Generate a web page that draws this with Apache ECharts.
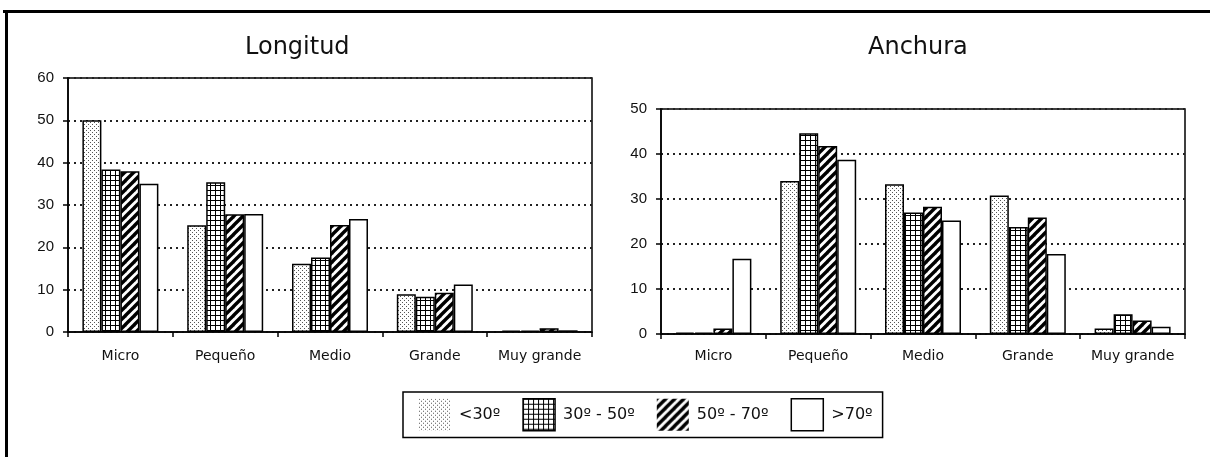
<!DOCTYPE html>
<html>
<head>
<meta charset="utf-8">
<script src="https://cdn.jsdelivr.net/npm/echarts@6/dist/echarts.min.js"></script>
<style>
  html, body { margin: 0; padding: 0; background: #fff; }
  #chart { width: 1210px; height: 457px; }
</style>
</head>
<body>
<div id="chart"></div>
<script>
// Categories and class names
const categories = ['Micro', 'Pequeño', 'Medio', 'Grande', 'Muy grande'];
const classNames = ['<30º', '30º - 50º', '50º - 70º', '>70º'];

// Longitud (%)
const longLt30  = [50.0, 25.2, 16.1, 8.9, 0.3];
const long30_50 = [38.4, 35.4, 17.6, 8.3, 0.3];
const long50_70 = [38.0, 27.8, 25.3, 9.3, 0.9];
const longGt70  = [35.0, 27.9, 26.7, 11.2, 0.4];

// Anchura (%)
const anchLt30  = [0.3, 34.0, 33.3, 30.8, 1.2];
const anch30_50 = [0.3, 44.6, 27.0, 23.8, 4.4];
const anch50_70 = [1.2, 41.8, 28.3, 25.9, 3.0];
const anchGt70  = [16.7, 38.7, 25.2, 17.8, 1.6];

// Axis ranges
const longTicks = { min: 0, max: 60, interval: 10 };
const anchTicks = { min: 0, max: 50, interval: 10 };

// Fill patterns drawn on small canvases
function tile(size, draw) {
  const c = document.createElement('canvas');
  c.width = size; c.height = size;
  const g = c.getContext('2d');
  g.fillStyle = '#fff';
  g.fillRect(0, 0, size, size);
  draw(g, size);
  return { image: c, repeat: 'repeat' };
}
const dotFill = tile(4, (g) => {
  g.fillStyle = '#555';
  g.fillRect(0, 0, 1, 1);
  g.fillRect(2, 2, 1, 1);
});
const gridFill = tile(5, (g, s) => {
  g.fillStyle = '#000';
  g.fillRect(0, 0, s, 1);
  g.fillRect(0, 0, 1, s);
});
const stripeFill = tile(9, (g, s) => {
  g.strokeStyle = '#000';
  g.lineWidth = 3.4;
  g.lineCap = 'square';
  for (let k = -1; k <= 1; k++) {
    g.beginPath();
    g.moveTo(k * s - 1, s + 1);
    g.lineTo(k * s + s + 1, -1);
    g.stroke();
  }
});
const fills = [dotFill, gridFill, stripeFill, '#fff'];
const borders = [0, 1.5, 0, 1.5];

const textColor = '#111';
const catFont = { fontFamily: 'DejaVu Sans', fontSize: 14, color: textColor };
const valFont = { fontFamily: 'Liberation Sans', fontSize: 15, color: textColor };

function xAxisFor(gridIndex, margin) {
  return {
    type: 'category', gridIndex, data: categories,
    axisLine: { lineStyle: { color: '#000', width: 1.5 } },
    axisTick: { show: true, length: 5, lineStyle: { color: '#000', width: 1.5 } },
    axisLabel: Object.assign({ margin, interval: 0 }, catFont),
    splitLine: { show: false }
  };
}
function yAxisFor(gridIndex, ticks) {
  return {
    type: 'value', gridIndex, min: ticks.min, max: ticks.max, interval: ticks.interval,
    axisLine: { show: true, lineStyle: { color: '#000', width: 1.5 } },
    axisTick: { show: true, length: 5, lineStyle: { color: '#000', width: 1.5 } },
    axisLabel: Object.assign({ margin: 14 }, valFont),
    splitLine: { show: true, lineStyle: { color: '#222', width: 2, type: [2, 4] } }
  };
}

function seriesFor(axisIndex, values) {
  return values.map((data, i) => ({
    name: classNames[i],
    type: 'bar',
    xAxisIndex: axisIndex,
    yAxisIndex: axisIndex,
    data,
    barGap: '0%',
    barCategoryGap: '27.5%',
    itemStyle: { color: fills[i], borderColor: '#000', borderWidth: 1.5 },
    emphasis: { disabled: true },
    animation: false
  }));
}

const chart = echarts.init(document.getElementById('chart'), null, { renderer: 'canvas' });
chart.setOption({
  backgroundColor: '#fff',
  animation: false,
  title: [
    { text: 'Longitud', left: 245, top: 36, padding: 0,
      textStyle: { fontFamily: 'DejaVu Sans', fontSize: 24, fontWeight: 'normal', color: textColor } },
    { text: 'Anchura', left: 868, top: 36, padding: 0,
      textStyle: { fontFamily: 'DejaVu Sans', fontSize: 24, fontWeight: 'normal', color: textColor } }
  ],
  legend: {
    data: classNames.map((name, i) => ({
      name,
      itemStyle: { color: fills[i], borderColor: '#000', borderWidth: borders[i] }
    })),
    left: 403, top: 392,
    orient: 'horizontal',
    icon: 'rect',
    itemWidth: 32, itemHeight: 32, itemGap: 22,
    padding: [6, 10, 6, 16],
    borderColor: '#000', borderWidth: 1.5,
    selectedMode: false,
    textStyle: { fontFamily: 'DejaVu Sans', fontSize: 16, color: textColor, padding: [0, 0, 0, 3] }
  },
  grid: [
    { left: 68, top: 78, width: 524, height: 254, show: true, borderColor: '#000', borderWidth: 1.5, backgroundColor: 'transparent', containLabel: false },
    { left: 661, top: 109, width: 524, height: 225, show: true, borderColor: '#000', borderWidth: 1.5, backgroundColor: 'transparent', containLabel: false }
  ],
  xAxis: [xAxisFor(0, 17), xAxisFor(1, 15)],
  yAxis: [yAxisFor(0, longTicks), yAxisFor(1, anchTicks)],
  series: [].concat(
    seriesFor(0, [longLt30, long30_50, long50_70, longGt70]),
    seriesFor(1, [anchLt30, anch30_50, anch50_70, anchGt70])
  ),
  graphic: [
    // outer frame: top and left edges
    { type: 'rect', shape: { x: 3, y: 10, width: 1207, height: 3 }, style: { fill: '#000' }, silent: true },
    { type: 'rect', shape: { x: 5, y: 10, width: 3, height: 447 }, style: { fill: '#000' }, silent: true }
  ]
});
</script>
</body>
</html>
